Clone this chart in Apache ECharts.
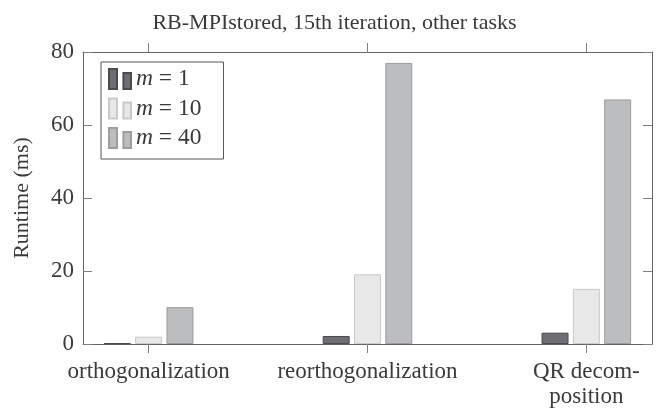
<!DOCTYPE html>
<html>
<head>
<meta charset="utf-8">
<script src="https://cdn.jsdelivr.net/npm/echarts@6/dist/echarts.min.js"></script>
<style>
  html, body { margin: 0; padding: 0; background: #fff; }
  #chart { width: 669px; height: 414px; }
</style>
</head>
<body>
<div id="chart"></div>
<script>
/// data

const categories = ['orthogonalization', 'reorthogonalization', 'QR decom-\nposition']
const seriesNames = ['1', '10', '40']
const m1 = [0.2, 2.2, 3.1]
const m10 = [2.0, 19.1, 15.1]
const m40 = [10.1, 77.0, 67.0]
const yTicks = [0, 20, 40, 60, 80]

/// style

const font = '"Liberation Serif", "DejaVu Serif", serif'
const textColor = '#3a3a3a'
const lineColor = '#666'
const tickColor = '#808080'
const fills = ['#6e6e72', '#e8e8e8', '#bcbdbf']
const borders = ['#4b4b4f', '#c9c9c9', '#9d9d9f']
const catIdx = categories.map((_, i) => i)

function pairs(values) {
  return values.map((v, i) => [catIdx[i], v])
}

function xAxis(pos, labels) {
  return {
    type: 'value',
    position: pos,
    min: -0.3,
    max: 2.3,
    splitLine: { show: false },
    axisLine: { show: true, onZero: false, lineStyle: { color: lineColor, width: 1 } },
    axisTick: { show: true, inside: false, length: 9, customValues: catIdx, lineStyle: { color: tickColor } },
    axisLabel: labels ? {
      customValues: catIdx,
      formatter: v => categories[Math.round(v)],
      fontFamily: font,
      fontSize: 23,
      lineHeight: 25,
      color: textColor,
      margin: 15
    } : { show: false }
  }
}

function yAxis(pos, labels) {
  return {
    type: 'value',
    position: pos,
    min: 0,
    max: 80,
    interval: 20,
    splitLine: { show: false },
    axisLine: { show: true, onZero: false, lineStyle: { color: lineColor, width: 1 } },
    axisTick: { show: true, inside: true, length: 9, customValues: yTicks, lineStyle: { color: tickColor } },
    axisLabel: labels ? { fontFamily: font, fontSize: 23, color: textColor, margin: 9 } : { show: false }
  }
}

const chart = echarts.init(document.getElementById('chart'), null, { renderer: 'canvas' })

const left = yAxis('left', true)
left.name = 'Runtime (ms)'
left.nameLocation = 'middle'
left.nameRotate = 90
left.nameGap = 50
left.nameTextStyle = { fontFamily: font, fontSize: 22, color: textColor }

chart.setOption({
  animation: false,
  backgroundColor: '#fff',
  textStyle: { fontFamily: font, color: textColor },
  title: {
    text: 'RB-MPIstored, 15th iteration, other tasks',
    left: 'center',
    top: 7,
    textStyle: { fontFamily: font, fontSize: 22, fontWeight: 'normal', color: textColor }
  },
  grid: { left: 83, right: 17, top: 52, bottom: 70 },
  legend: {
    orient: 'vertical',
    left: 101,
    top: 62,
    padding: [5, 22, 9, 7],
    itemGap: 5.5,
    itemWidth: 22,
    itemHeight: 20,
    borderColor: '#555',
    borderWidth: 1,
    backgroundColor: '#fff',
    icon: 'path://M0,0H8V20H0Z M14.4,4H22V20H14.4Z',
    formatter: name => '{i|m} = ' + name,
    textStyle: {
      fontFamily: font,
      fontSize: 23.5,
      lineHeight: 20,
      color: textColor,
      rich: { i: { fontFamily: font, fontSize: 23.5, lineHeight: 20, fontStyle: 'italic', color: textColor } }
    },
    data: seriesNames
  },
  xAxis: [xAxis('bottom', true), xAxis('top', false)],
  yAxis: [left, yAxis('right', false)],
  series: [m1, m10, m40].map((vals, k) => ({
    name: seriesNames[k],
    type: 'bar',
    xAxisIndex: 0,
    yAxisIndex: 0,
    barWidth: 27,
    barGap: '16%',
    data: pairs(vals),
    itemStyle: { color: fills[k], borderColor: borders[k], borderWidth: 1 }
  }))
})
</script>
</body>
</html>
